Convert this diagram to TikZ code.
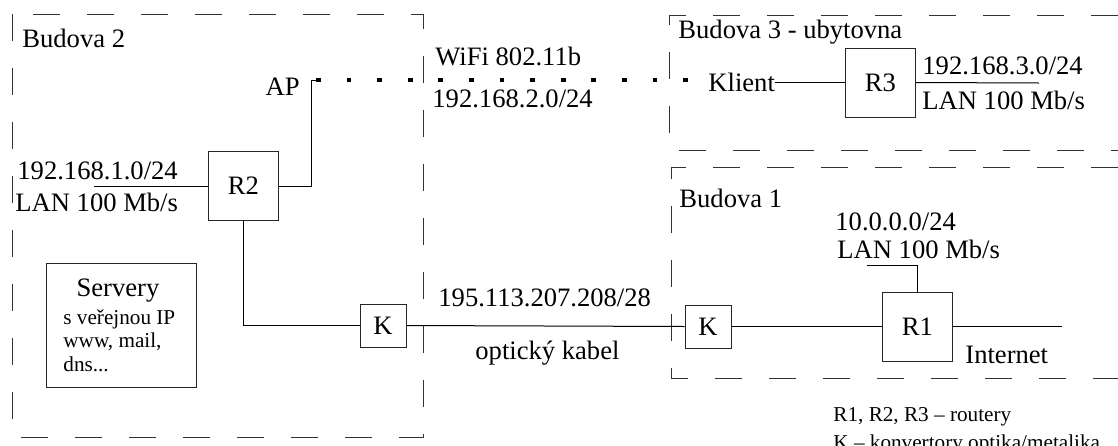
\documentclass[tikz,border=0pt]{standalone}
\usepackage{fontspec}
\setmainfont{Liberation Serif}
\usetikzlibrary{positioning}
\tikzset{
  device/.style={draw=black!85, line width=0.5pt, inner sep=0pt, font=\fontsize{13.3}{16}\selectfont},
  router/.style={device, minimum width=35pt, minimum height=34.5pt},
  conv/.style={device, minimum width=23pt, minimum height=21.5pt},
  building/.style={draw=black!80, line width=0.5pt, dash pattern=on 13.5pt off 13.5pt},
  link/.style={draw=black, line width=0.5pt},
  wifi/.style={draw=black, line width=2.4pt, dash pattern=on 2.4pt off 12.9pt},
  txt/.style={inner sep=0pt, anchor=base west, font=\fontsize{13.3}{16}\selectfont},
  note/.style={inner sep=0pt, anchor=base west, font=\fontsize{10.6}{12.5}\selectfont}
}
\begin{document}
\begin{tikzpicture}[x=0.5pt, y=-0.5pt]
  \useasboundingbox (0,0) rectangle (1118,445);
  % buildings
  \draw[building] (12,14) rectangle (423,437);
  \draw[building] (1118,15) -- (669,15) -- (669,150) -- (1118,150);
  \draw[building] (1118,167) -- (671,167) -- (671,378) -- (1118,378);
  \node[txt] (b2) at (22,47) {Budova 2};
  \node[txt] (b3) at (678,38) {Budova 3 - ubytovna};
  \node[txt] (b1) at (679,207) {Budova 1};

  % devices
  \node[router] (R2) at (243.5,186) {R2};
  \node[router] (R3) at (880.5,82.5) {R3};
  \node[router] (R1) at (917.5,326.5) {R1};
  \node[conv] (K1) at (383,325.5) {K};
  \node[conv] (K2) at (708,326.5) {K};
  \node[device, minimum width=75pt, minimum height=62pt] (srv) at (121,325) {};
  \node[txt, anchor=base] (srvname) at (118,296) {Servery};
  \node[note] (srv1) at (63,324) {s veřejnou IP};
  \node[note] (srv2) at (63,347) {www, mail,};
  \node[note] (srv3) at (63,371) {dns...};

  % labels
  \node[txt, anchor=base east] (ap) at (300,95) {AP};
  \node[txt] (wifi) at (435,65) {WiFi 802.11b};
  \node[txt] (net2) at (432,107) {192.168.2.0/24};
  \node[txt, anchor=west] (klient) at (708,82.5) {Klient};
  \node[txt] (net3) at (922,74) {192.168.3.0/24};
  \node[txt] (lan3) at (922,109) {LAN 100 Mb/s};
  \node[txt] (net1) at (17,179) {192.168.1.0/24};
  \node[txt] (lan2) at (15,211) {LAN 100 Mb/s};
  \node[txt] (pub) at (438,306) {195.113.207.208/28};
  \node[txt] (fiber) at (475,359) {optický kabel};
  \node[txt] (net0) at (835,230) {10.0.0.0/24};
  \node[txt] (lan1) at (837,258) {LAN 100 Mb/s};
  \node[txt] (inet) at (965,363) {Internet};
  \node[note] (leg1) at (833,421) {R1, R2, R3 – routery};
  \node[note] (leg2) at (833,449) {K – konvertory optika/metalika};

  % connections
  \coordinate (apc) at (311,80);
  \coordinate (wa) at (316,80);
  \coordinate (wb) at (690,80);
  \coordinate (end2) at (94,186);
  \coordinate (end3) at (1039,83);
  \coordinate (end1) at (867,265);
  \coordinate (endnet) at (1062,326.5);
  \draw[link] (R2.east) -| (apc) -- (wa);
  \draw[wifi] (wa) -- (wb);
  \draw[link] (end2) -- (R2.west);
  \draw[link] (R2.south) |- (K1.west);
  \draw[link] (K1.east) -- (K2.west);
  \draw[link] (K2.east) -- (R1.west);
  \draw[link] (R1.east) -- (endnet);
  \draw[link] (R1.north) |- (end1);
  \draw[link] (klient.east) -- (R3.west);
  \draw[link] (R3.east) -- (end3);
\end{tikzpicture}
\end{document}
